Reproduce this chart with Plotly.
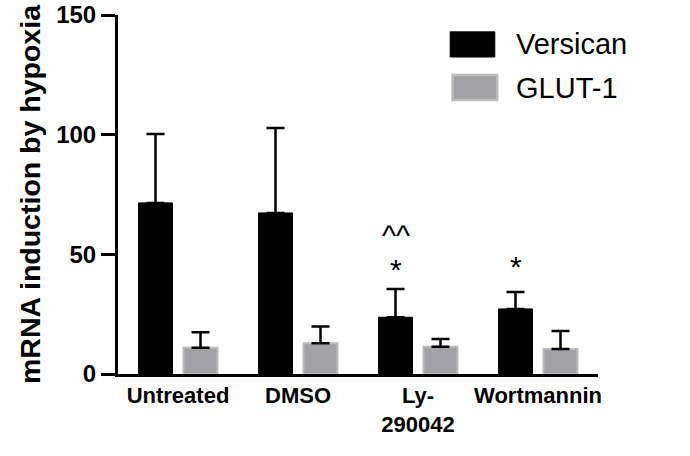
import plotly.graph_objects as go

categories = ["Untreated", "DMSO", "Ly-<br>290042", "Wortmannin"]
series_names = ["Versican", "GLUT-1"]
versican = [71.5, 67.3, 23.7, 27.2]
versican_err = [28.8, 35.5, 11.8, 7.1]
glut1 = [11.0, 12.8, 11.4, 10.4]
glut1_err = [6.4, 7.0, 3.2, 7.6]
y_ticks = [0, 50, 100, 150]
sig_marks = [("Ly-<br>290042", "*", 43.5), ("Ly-<br>290042", "^^", 58.0), ("Wortmannin", "*", 45.0)]

FONT = "Liberation Sans, Arial, Helvetica, sans-serif"

fig = go.Figure()
fig.add_trace(go.Bar(
    x=categories, y=versican, name=series_names[0],
    marker=dict(color="black", line=dict(color="black", width=1)),
    error_y=dict(type="data", array=versican_err, arrayminus=[0]*4, symmetric=False,
                 color="black", thickness=2.5, width=9),
    showlegend=False,
))
fig.add_trace(go.Bar(
    x=categories, y=glut1, name=series_names[1],
    marker=dict(color="#a2a2a6", line=dict(color="#bcbcbc", width=2)),
    error_y=dict(type="data", array=glut1_err, arrayminus=[0]*4, symmetric=False,
                 color="black", thickness=2.5, width=9),
    showlegend=False,
))

# significance marks above Versican bars
for cat, txt, yv in sig_marks:
    fig.add_annotation(x=cat, y=yv, text=txt, showarrow=False, xshift=-22.5,
                       font=dict(family=FONT, size=30, color="black"), yanchor="middle")

# manual legend with large swatches
fig.add_shape(type="rect", xref="paper", yref="paper", x0=0.692, x1=0.785, y0=0.883, y1=0.953,
              fillcolor="black", line=dict(color="black", width=1))
fig.add_shape(type="rect", xref="paper", yref="paper", x0=0.697, x1=0.790, y0=0.763, y1=0.833,
              fillcolor="#a2a2a6", line=dict(color="#bcbcbc", width=2.5))
fig.add_annotation(xref="paper", yref="paper", x=0.826, y=0.918, text=series_names[0],
                   showarrow=False, xanchor="left", yanchor="middle",
                   font=dict(family=FONT, size=29, color="black"))
fig.add_annotation(xref="paper", yref="paper", x=0.826, y=0.797, text=series_names[1],
                   showarrow=False, xanchor="left", yanchor="middle",
                   font=dict(family=FONT, size=29, color="black"))

fig.update_layout(
    width=690, height=456,
    margin=dict(l=118, r=92, t=15, b=82, autoexpand=False),
    paper_bgcolor="white", plot_bgcolor="white",
    barmode="group", bargap=0.25, bargroupgap=0.244,
    font=dict(family=FONT, color="black"),
)
fig.update_xaxes(
    showline=True, linecolor="black", linewidth=3, ticks="", showgrid=False, automargin=False,
    tickfont=dict(family=FONT, size=22, color="black", weight="bold"),
    range=[-0.5, 3.5],
)
fig.update_yaxes(
    range=[0, 150], tickvals=y_ticks, showline=True, linecolor="black", linewidth=3,
    ticks="outside", ticklen=14, tickwidth=3, tickcolor="black", showgrid=False, zeroline=False,
    automargin=False, ticklabeloverflow="allow",
    tickfont=dict(family=FONT, size=24, color="black", weight="bold"),
    title=dict(text="mRNA induction by hypoxia", standoff=8,
               font=dict(family=FONT, size=28.5, color="black", weight="bold")),
)

# remove the browser's default 8px body margin so the figure fills the window exactly
fig.write_html("out.html", config={"displayModeBar": False},
               post_script="document.body.style.margin='0px';")
